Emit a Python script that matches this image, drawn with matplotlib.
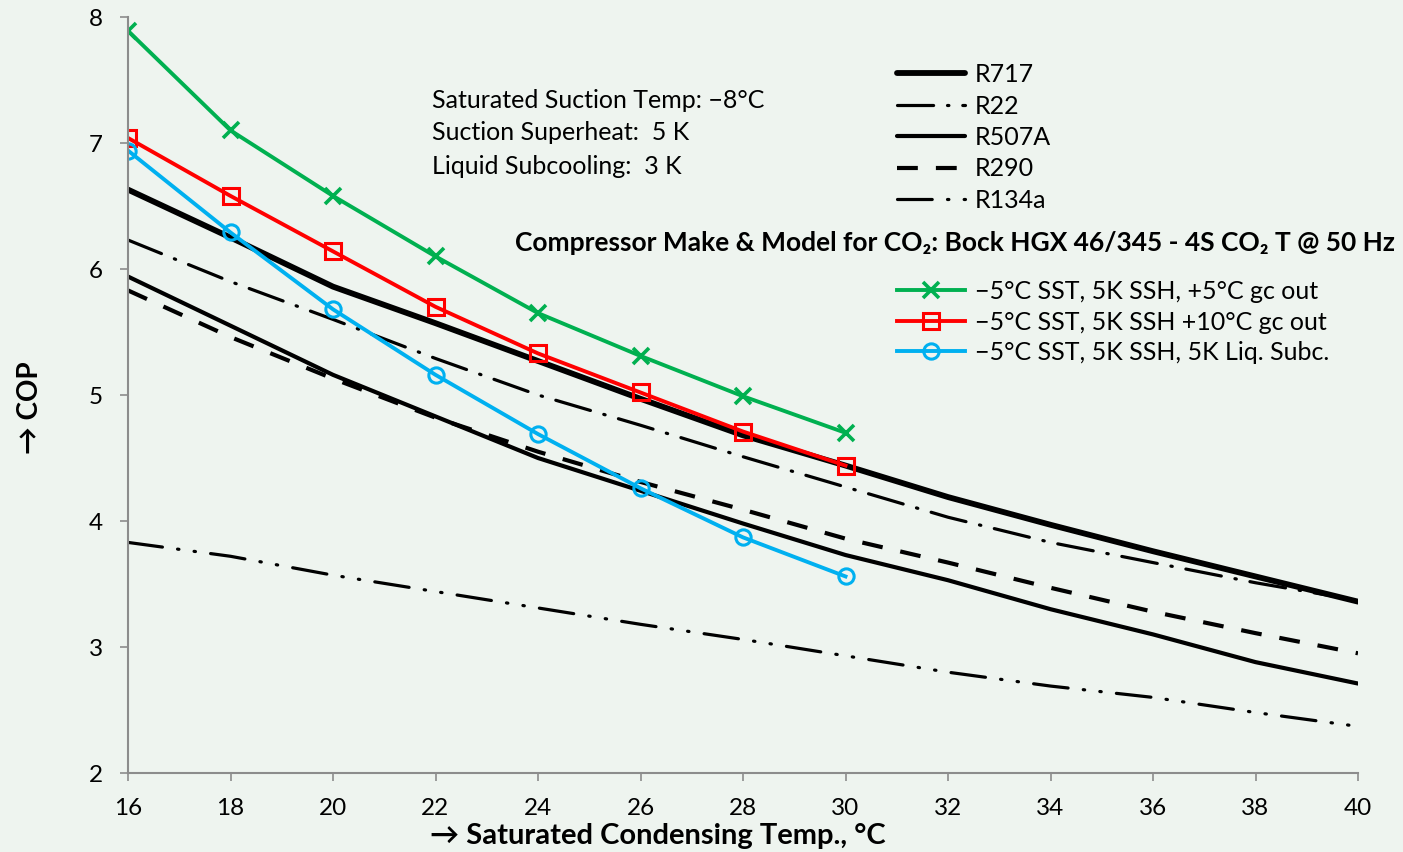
import matplotlib
matplotlib.use('Agg')
import matplotlib.pyplot as plt

plt.rcParams['font.family'] = ['Lato', 'DejaVu Sans']
plt.rcParams['lines.scale_dashes'] = False

# Refrigerant curves (16..40 °C)
x_ref = [16, 18, 20, 22, 24, 26, 28, 30, 32, 34, 36, 38, 40]
r717 = [6.63, 6.25, 5.86, 5.57, 5.27, 4.97, 4.68, 4.44, 4.19, 3.97, 3.76, 3.56, 3.36]
r22 = [6.23, 5.90, 5.60, 5.29, 5.00, 4.76, 4.51, 4.27, 4.03, 3.83, 3.67, 3.51, 3.37]
r507a = [5.94, 5.55, 5.16, 4.83, 4.50, 4.24, 3.98, 3.73, 3.53, 3.30, 3.10, 2.88, 2.71]
r290 = [5.83, 5.46, 5.13, 4.82, 4.55, 4.31, 4.09, 3.86, 3.67, 3.47, 3.28, 3.11, 2.95]
r134a = [3.83, 3.72, 3.57, 3.44, 3.31, 3.18, 3.06, 2.93, 2.80, 2.69, 2.60, 2.48, 2.37]

# CO2 curves (16..30 °C)
x_co2 = [16, 18, 20, 22, 24, 26, 28, 30]
co2_gc5 = [7.89, 7.10, 6.58, 6.10, 5.65, 5.31, 4.99, 4.70]
co2_gc10 = [7.04, 6.58, 6.14, 5.70, 5.33, 5.02, 4.71, 4.44]
co2_subc = [6.94, 6.29, 5.68, 5.16, 4.69, 4.26, 3.87, 3.56]

x_ticks = list(range(16, 41, 2))
y_ticks = [2, 3, 4, 5, 6, 7, 8]

bg = '#eef4ef'
fig = plt.figure(figsize=(14.03, 8.52), dpi=100, facecolor=bg)
ax = fig.add_axes([128 / 1403, 1 - 773 / 852, 1230 / 1403, 756 / 852])
ax.set_facecolor(bg)

l717, = ax.plot(x_ref, r717, color='black', lw=4.2, solid_capstyle='round', label='R717')
l22, = ax.plot(x_ref, r22, color='black', lw=2.3, dashes=(26, 10, 1, 10),
               dash_capstyle='round', label='R22')
l507, = ax.plot(x_ref, r507a, color='black', lw=3.0, solid_capstyle='round', label='R507A')
l290, = ax.plot(x_ref, r290, color='black', lw=3.0, dashes=(15, 13), label='R290')
l134, = ax.plot(x_ref, r134a, color='black', lw=2.3, dashes=(25, 11, 1, 11, 1, 11),
                dash_capstyle='round', label='R134a')

g, = ax.plot(x_co2, co2_gc5, color='#00b050', lw=2.8, marker='x', ms=11, mew=2.6,
             label='\u22125°C SST, 5K SSH, +5°C gc out')
r, = ax.plot(x_co2, co2_gc10, color='#ff0000', lw=2.8, marker='s', ms=11, mew=2.2,
             mfc='none', label='\u22125°C SST, 5K SSH +10°C gc out')
b, = ax.plot(x_co2, co2_subc, color='#00b0f0', lw=2.8, marker='o', ms=11, mew=2.2,
             mfc='none', label='\u22125°C SST, 5K SSH, 5K Liq. Subc.')

ax.set_xlim(16, 40)
ax.set_ylim(2, 8)
ax.set_xticks(x_ticks)
ax.set_yticks(y_ticks)
for s in ['top', 'right']:
    ax.spines[s].set_visible(False)
for s in ['left', 'bottom']:
    ax.spines[s].set_color('#8c8c8c')
    ax.spines[s].set_linewidth(1.5)
ax.tick_params(direction='out', length=6, width=1.2, color='#8c8c8c', labelsize=17.5, pad=12)

# axis titles
fig.text(658 / 1403, 1 - 836 / 852, '\u2192 Saturated Condensing Temp., °C',
         fontsize=21, fontweight='bold', ha='center', va='center')
fig.text(30 / 1403, 1 - 408 / 852, '\u2192 COP', fontsize=20, fontweight='bold',
         rotation=90, ha='center', va='center')

leg1 = ax.legend(handles=[l717, l22, l507, l290, l134], loc='upper left',
                 bbox_to_anchor=(897 / 1403, 1 - 63 / 852), bbox_transform=fig.transFigure,
                 frameon=False, fontsize=18, handlelength=2.72, handletextpad=0.4,
                 labelspacing=0.34, borderpad=0, borderaxespad=0)
ax.add_artist(leg1)
ax.legend(handles=[g, r, b], loc='upper left',
          bbox_to_anchor=(897 / 1403, 1 - 280 / 852), bbox_transform=fig.transFigure,
          frameon=False, fontsize=18, handlelength=2.72, handletextpad=0.4,
          labelspacing=0.3, borderpad=0, borderaxespad=0)

fig.text(1395 / 1403, 1 - 243 / 852,
         'Compressor Make & Model for CO\u2082: Bock HGX 46/345 - 4S CO\u2082 T @ 50 Hz',
         fontsize=19, fontweight='bold', ha='right', va='center')

conditions = ['Saturated Suction Temp: \u22128°C', 'Suction Superheat:  5 K', 'Liquid Subcooling:  3 K']
for i, t in enumerate(conditions):
    fig.text(432 / 1403, 1 - (100 + 33 * i) / 852, t, fontsize=18, ha='left', va='center')

fig.savefig('out.png', dpi=100, facecolor=bg)
